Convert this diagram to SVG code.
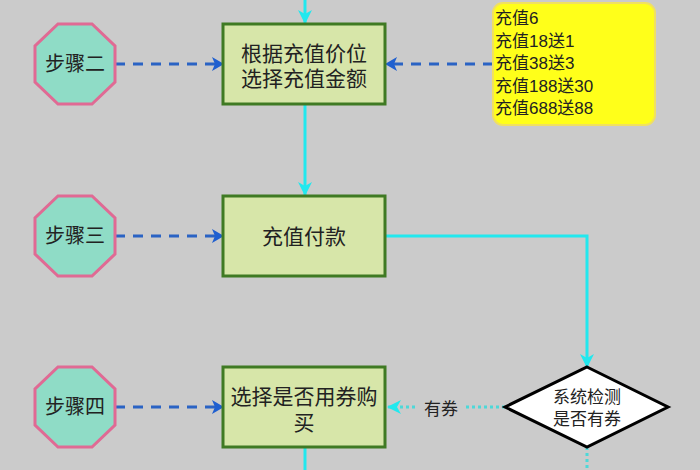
<svg xmlns="http://www.w3.org/2000/svg" width="700" height="470" viewBox="0 0 700 470">
<style>
text{font-family:"Liberation Sans","Noto Sans CJK SC",sans-serif;fill:#222}
.oct{fill:#8fdcc6;stroke:#e06a94;stroke-width:3}
.box{fill:#d7e6a9;stroke:#3f7a23;stroke-width:3}
.dash{stroke:#2a63c4;stroke-width:3;stroke-dasharray:10,8;fill:none}
.cy{stroke:#22e8ee;stroke-width:3;fill:none}
.dot{stroke:#4dd8d8;stroke-width:3;stroke-dasharray:3,3;fill:none}
</style>
<defs>
<marker id="bl" markerWidth="12" markerHeight="14" refX="11" refY="7" orient="auto" markerUnits="userSpaceOnUse" viewBox="0 0 12 14"><path d="M0,0 L12,7 L0,14 L3,7 z" fill="#1f5fd0"/></marker>
<marker id="cy" markerWidth="14" markerHeight="14" refX="13" refY="7" orient="auto" markerUnits="userSpaceOnUse" viewBox="0 0 14 14"><path d="M0,0 L14,7 L0,14 L4,7 z" fill="#22e8ee"/></marker>
</defs>
<rect width="700" height="470" fill="#cbcbcb"/>
<g id="connectors">
<path class="cy" d="M305,0 V23" marker-end="url(#cy)"/>
<path class="cy" d="M305,104 V195" marker-end="url(#cy)"/>
<path class="cy" d="M385,236 H587 V367" marker-end="url(#cy)"/>
<path class="cy" d="M305,447 V470"/>
<path class="dot" d="M505,407 H388" marker-end="url(#cy)"/>
<path class="dot" d="M587,447 V470"/>
<path class="dash" d="M115,64 H223" marker-end="url(#bl)"/>
<path class="dash" d="M115,236 H223" marker-end="url(#bl)"/>
<path class="dash" d="M115,407 H223" marker-end="url(#bl)"/>
<path class="dash" d="M493,64 H386" marker-end="url(#bl)"/>
<rect x="418" y="397" width="46" height="20" fill="#cbcbcb"/>
<text x="441" y="415" font-size="17" text-anchor="middle">有券</text>
</g>
<g id="step2"><polygon class="oct" points="58,24 92,24 115,46 115,82 92,104 58,104 35,82 35,46"/><text x="75" y="71" font-size="20" text-anchor="middle">步骤二</text></g>
<g id="step3"><polygon class="oct" points="58,196 92,196 115,218 115,254 92,276 58,276 35,254 35,218"/><text x="75" y="243" font-size="20" text-anchor="middle">步骤三</text></g>
<g id="step4"><polygon class="oct" points="58,367 92,367 115,389 115,425 92,447 58,447 35,425 35,389"/><text x="75" y="414" font-size="20" text-anchor="middle">步骤四</text></g>
<g id="box1"><rect class="box" x="223" y="24" width="162" height="80"/><text x="304" y="61" font-size="21" text-anchor="middle">根据充值价位</text><text x="304" y="86" font-size="21" text-anchor="middle">选择充值金额</text></g>
<g id="box2"><rect class="box" x="223" y="196" width="162" height="80"/><text x="304" y="244" font-size="21" text-anchor="middle">充值付款</text></g>
<g id="box3"><rect class="box" x="223" y="367" width="162" height="80"/><text x="304" y="404" font-size="21" text-anchor="middle">选择是否用券购</text><text x="304" y="430" font-size="21" text-anchor="middle">买</text></g>
<g id="decision"><polygon points="587,367 668,407 587,447 505,407" fill="#fff" stroke="#000" stroke-width="3"/><text x="587" y="403" font-size="17" text-anchor="middle">系统检测</text><text x="587" y="425" font-size="17" text-anchor="middle">是否有券</text></g>
<g id="prices"><rect x="493" y="3" width="162" height="122" rx="10" fill="#ffff1a" stroke="#f0e060" stroke-width="2"/>
<text font-size="17"><tspan x="495" y="24">充值6</tspan><tspan x="495" y="47">充值18送1</tspan><tspan x="495" y="69">充值38送3</tspan><tspan x="495" y="92">充值188送30</tspan><tspan x="495" y="114">充值688送88</tspan></text></g>
</svg>
